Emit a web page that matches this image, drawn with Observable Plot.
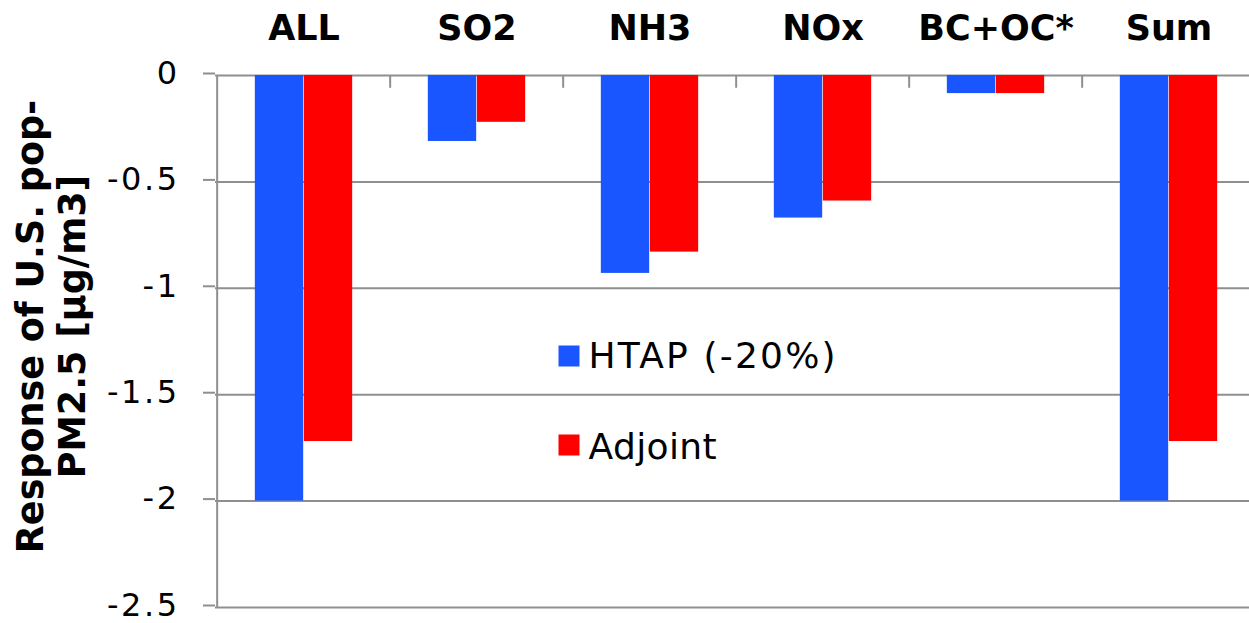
<!DOCTYPE html>
<html>
<head>
<meta charset="utf-8">
<script src="https://cdn.jsdelivr.net/npm/d3@7"></script>
<script src="https://cdn.jsdelivr.net/npm/@observablehq/plot@0.6"></script>
<style>
  html, body { margin: 0; padding: 0; background: #fff; }
  svg { display: block; }
</style>
</head>
<body>
<div id="chart"></div>
<script>
const categories = ["ALL", "SO2", "NH3", "NOx", "BC+OC*", "Sum"];
const htap = [-2.0, -0.31, -0.93, -0.67, -0.085, -2.0];
const adjoint = [-1.72, -0.22, -0.83, -0.59, -0.085, -1.72];
const yTicks = [0, -0.5, -1, -1.5, -2, -2.5];
const seriesNames = ["HTAP (-20%)", "Adjoint"];
const colors = ["#1a56ff", "#ff0000"];

const rowsH = categories.map((c, i) => ({cat: c, v: htap[i]}));
const rowsA = categories.map((c, i) => ({cat: c, v: adjoint[i]}));
const step = (1257 - 215) / categories.length;
const barW = 49;
const inset = (step - barW) / 2;
const font = "DejaVu Sans, Verdana, sans-serif";
const grid = "#8f8f8f";

const chart = Plot.plot({
  width: 1249,
  height: 623,
  marginLeft: 215,
  marginTop: 75,
  marginBottom: 16,
  marginRight: 0,
  style: {fontFamily: font, background: "#fff"},
  x: {domain: categories, range: [215, 1257], padding: 0, axis: null},
  y: {domain: [-2.5, 0], range: [607, 75], axis: null},
  marks: [
    Plot.gridY(yTicks, {stroke: grid, strokeOpacity: 1, strokeWidth: 2}),
    Plot.axisY(yTicks, {tickSize: 12, tickPadding: 24, stroke: grid, strokeWidth: 2, fontSize: 32, fill: "#000", label: null, tickFormat: d => String(d), dy: -2}),
    // vertical axis line
    Plot.ruleX([categories[0]], {y1: 0, y2: -2.5, dx: -step / 2, stroke: grid, strokeWidth: 2}),
    // category separator ticks
    Plot.ruleX(categories.slice(1), {y1: 0, y2: -0.06, dx: -step / 2, stroke: grid, strokeWidth: 2}),
    Plot.barY(rowsH, {x: "cat", y1: 0, y2: "v", fill: colors[0], insetLeft: inset, insetRight: inset, dx: -barW / 2}),
    Plot.barY(rowsA, {x: "cat", y1: 0, y2: "v", fill: colors[1], insetLeft: inset, insetRight: inset, dx: barW / 2}),
    // category labels on top
    Plot.text(categories, {x: d => d, y: 0, dy: -46.5, text: d => d, fontSize: 35, fontWeight: "bold", fill: "#000", lineAnchor: "middle"}),
    // y label
    Plot.text(["Response of U.S. pop-"], {frameAnchor: "left", dx: -184, dy: -15, rotate: -90, textAnchor: "middle", lineAnchor: "middle", fontSize: 36.5, fontWeight: "bold", fill: "#000", text: d => d}),
    Plot.text(["PM2.5 [µg/m3]"], {frameAnchor: "left", dx: -142, dy: -15, rotate: -90, textAnchor: "middle", lineAnchor: "middle", fontSize: 36.5, fontWeight: "bold", fill: "#000", text: d => d}),
    // legend
    Plot.dot([0], {frameAnchor: "top-left", dx: 353.5, dy: 280.5, symbol: "square", r: 11.85, fill: colors[0], stroke: null}),
    Plot.dot([1], {frameAnchor: "top-left", dx: 353.5, dy: 369.5, symbol: "square", r: 11.85, fill: colors[1], stroke: null}),
    Plot.text([seriesNames[0]], {frameAnchor: "top-left", dx: 373, dy: 280.5, text: d => d, textAnchor: "start", lineAnchor: "middle", fontSize: 36, fill: "#000"}),
    Plot.text([seriesNames[1]], {frameAnchor: "top-left", dx: 373, dy: 371.5, text: d => d, textAnchor: "start", lineAnchor: "middle", fontSize: 36, fill: "#000"})
  ]
});
const sel = d3.select(chart);
sel.selectAll("text").filter(function () { return this.textContent === seriesNames[0]; })
  .attr("letter-spacing", "2.2px");
sel.selectAll("text").filter(function () { return this.textContent === seriesNames[1]; })
  .attr("letter-spacing", "0.4px");
sel.selectAll("g[aria-label='y-axis tick label'] text").attr("letter-spacing", "2.5px");
document.getElementById("chart").appendChild(chart);
</script>
</body>
</html>
